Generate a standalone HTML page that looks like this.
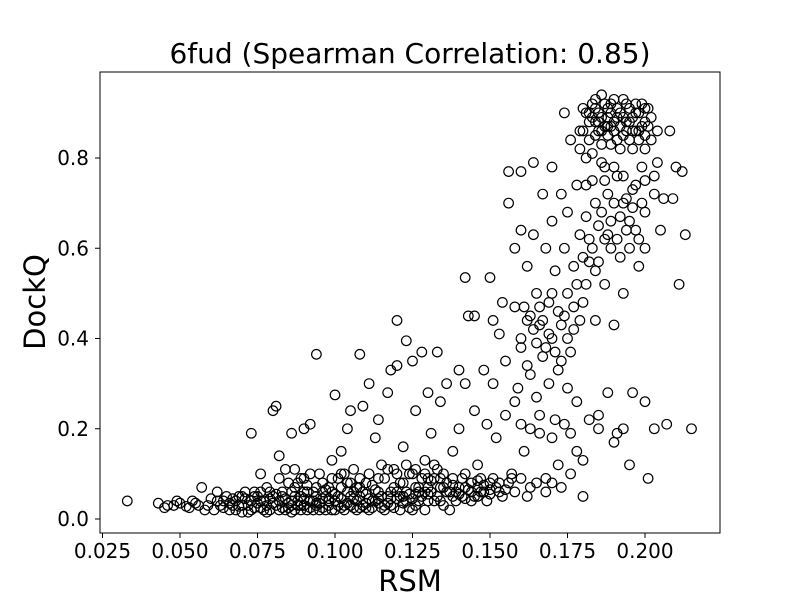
<!DOCTYPE html>
<html><head><meta charset="utf-8"><style>
html,body{margin:0;padding:0;background:#fff;}
svg{display:block;font-family:"DejaVu Sans","Liberation Sans",sans-serif;}
</style></head><body>
<svg id="chart" width="800" height="600" xmlns="http://www.w3.org/2000/svg">
<rect width="800" height="600" fill="#fff"/>
<text x="410" y="63" font-size="28" text-anchor="middle">6fud (Spearman Correlation: 0.85)</text>
<g id="points"></g>
<rect x="100" y="72" width="620" height="461" fill="none" stroke="#000" stroke-width="1"/>
<g id="xticks"></g>
<g id="yticks"></g>
<text x="410" y="591" font-size="29" text-anchor="middle">RSM</text>
<text x="45" y="302" font-size="29" text-anchor="middle" transform="rotate(-90 45 302)">DockQ</text>
</svg>
<script>
const xTickValues=[0.025,0.050,0.075,0.100,0.125,0.150,0.175,0.200];
const xTickLabels=["0.025","0.050","0.075","0.100","0.125","0.150","0.175","0.200"];
const yTickValues=[0.0,0.2,0.4,0.6,0.8];
const yTickLabels=["0.0","0.2","0.4","0.6","0.8"];
const lowBand=[[0.033,0.04],[0.043,0.035],[0.045,0.025],[0.048,0.03],[0.05,0.035],[0.052,0.028],[0.054,0.04],[0.056,0.03],[0.057,0.07],[0.058,0.02],[0.06,0.045],[0.062,0.06],[0.063,0.03],[0.065,0.05],[0.066,0.02],[0.068,0.04],[0.07,0.03],[0.071,0.06],[0.072,0.015],[0.074,0.05],[0.075,0.035],[0.077,0.02],[0.078,0.07],[0.079,0.045],[0.081,0.03],[0.083,0.06],[0.084,0.02],[0.085,0.08],[0.086,0.04],[0.088,0.03],[0.089,0.05],[0.09,0.09],[0.091,0.02],[0.093,0.06],[0.094,0.035],[0.095,0.1],[0.096,0.045],[0.097,0.02],[0.098,0.07],[0.1,0.04],[0.101,0.09],[0.103,0.03],[0.104,0.06],[0.106,0.11],[0.107,0.02],[0.108,0.05],[0.11,0.08],[0.112,0.04],[0.115,0.12],[0.116,0.03],[0.119,0.07],[0.121,0.05],[0.124,0.1],[0.125,0.02],[0.127,0.06],[0.13,0.04],[0.132,0.09],[0.135,0.07],[0.137,0.02],[0.139,0.06],[0.141,0.09],[0.144,0.04],[0.147,0.06],[0.15,0.08],[0.153,0.06],
[0.061,0.02],[0.064,0.04],[0.067,0.03],[0.069,0.05],[0.07,0.015],[0.073,0.04],[0.074,0.025],[0.076,0.06],[0.078,0.03],[0.079,0.02],[0.08,0.05],[0.082,0.04],[0.083,0.025],[0.085,0.035],[0.086,0.06],[0.087,0.02],[0.088,0.08],[0.089,0.03],[0.09,0.045],[0.091,0.06],[0.092,0.025],[0.093,0.04],[0.094,0.07],[0.095,0.02],[0.096,0.08],[0.097,0.05],[0.098,0.03],[0.099,0.06],[0.1,0.02],[0.101,0.05],[0.102,0.07],[0.103,0.1],[0.104,0.035],[0.105,0.05],[0.106,0.025],[0.107,0.07],[0.108,0.09],[0.109,0.03],[0.11,0.055],[0.111,0.02],[0.112,0.075],[0.113,0.04],[0.114,0.06],[0.115,0.025],[0.116,0.09],[0.117,0.05],[0.118,0.03],[0.119,0.11],[0.12,0.06],[0.121,0.02],[0.122,0.08],[0.123,0.04],[0.124,0.055],[0.125,0.1],[0.126,0.03],[0.127,0.07],[0.128,0.05],[0.129,0.02],[0.13,0.09],[0.131,0.06],[0.132,0.04],[0.133,0.11],[0.134,0.07],[0.135,0.03],[0.136,0.08],[0.137,0.06],[0.138,0.09],[0.139,0.04],[0.14,0.07],[0.141,0.05],[0.142,0.1],[0.143,0.065],[0.144,0.08],[0.145,0.05],[0.146,0.07],[0.147,0.09],[0.148,0.06],[0.149,0.04],[0.15,0.065],[0.152,0.07],[0.154,0.05],[0.156,0.08],[0.158,0.06],[0.16,0.09],[0.162,0.05],[0.165,0.08],[0.168,0.06],[0.17,0.08],[0.173,0.07],[0.176,0.1],[0.18,0.05]];
const denseBand=[[0.066,0.035],[0.068,0.02],[0.069,0.028],[0.071,0.045],[0.072,0.03],[0.073,0.02],[0.075,0.05],[0.076,0.025],[0.077,0.04],[0.078,0.015],[0.08,0.035],[0.081,0.055],[0.082,0.02],[0.084,0.045],[0.085,0.025],[0.086,0.015],[0.087,0.05],[0.088,0.04],[0.089,0.02],[0.09,0.03],[0.091,0.075],[0.092,0.04],[0.093,0.02],[0.094,0.05],[0.095,0.035],[0.096,0.025],[0.097,0.065],[0.098,0.045],[0.099,0.02],[0.1,0.055],[0.101,0.03],[0.102,0.045],[0.103,0.02],[0.104,0.08],[0.105,0.03],[0.106,0.045],[0.107,0.04],[0.108,0.025],[0.109,0.06],[0.11,0.035],[0.111,0.045],[0.112,0.025],[0.113,0.065],[0.114,0.035],[0.115,0.05],[0.116,0.02],[0.117,0.035],[0.118,0.06],[0.119,0.025],[0.12,0.045],[0.121,0.08],[0.122,0.035],[0.123,0.06],[0.124,0.025],[0.125,0.045],[0.126,0.07],[0.127,0.04],[0.128,0.09],[0.129,0.06],[0.13,0.07],[0.131,0.085],[0.133,0.05],[0.134,0.09],[0.136,0.06],[0.138,0.075],[0.14,0.055],[0.142,0.07],[0.144,0.06],[0.146,0.085],[0.148,0.075],[0.15,0.055],[0.151,0.09],[0.153,0.08],[0.155,0.065],[0.157,0.09],[0.082,0.09],[0.084,0.11],[0.087,0.07],[0.089,0.09],[0.092,0.1],[0.096,0.06],[0.099,0.09],[0.102,0.1],[0.105,0.08],[0.108,0.07],[0.111,0.1],[0.114,0.09],[0.117,0.11],[0.12,0.1],[0.123,0.12],[0.126,0.11],[0.129,0.1],[0.132,0.12],[0.135,0.1],[0.074,0.06],[0.076,0.04],[0.079,0.06],[0.083,0.05],[0.086,0.03],[0.09,0.06],[0.094,0.03],[0.098,0.04],[0.102,0.025],[0.106,0.06],[0.11,0.025],[0.114,0.045],[0.118,0.045],[0.122,0.05],[0.126,0.055],[0.13,0.055],[0.134,0.04],[0.138,0.05],[0.142,0.045],[0.146,0.05],[0.059,0.03],[0.062,0.04],[0.064,0.025],[0.067,0.045],[0.07,0.05],[0.055,0.035],[0.053,0.025],[0.049,0.04],[0.046,0.03]];
const midBand=[[0.073,0.19],[0.076,0.1],[0.08,0.24],[0.081,0.25],[0.082,0.14],[0.086,0.19],[0.087,0.11],[0.09,0.2],[0.092,0.21],[0.094,0.365],[0.099,0.13],[0.1,0.275],[0.102,0.15],[0.104,0.2],[0.105,0.24],[0.108,0.365],[0.109,0.25],[0.111,0.3],[0.113,0.18],[0.114,0.22],[0.117,0.28],[0.118,0.33],[0.12,0.44],[0.12,0.34],[0.122,0.16],[0.123,0.395],[0.125,0.35],[0.126,0.24],[0.128,0.37],[0.129,0.13],[0.13,0.28],[0.131,0.19],[0.133,0.37],[0.134,0.26],[0.136,0.3],[0.138,0.15],[0.14,0.33],[0.14,0.2],[0.142,0.535],[0.142,0.3],[0.143,0.45],[0.145,0.45],[0.145,0.24],[0.146,0.12],[0.148,0.33],[0.149,0.21],[0.15,0.535],[0.151,0.44],[0.151,0.3],[0.152,0.18],[0.153,0.41],[0.154,0.48],[0.155,0.35],[0.155,0.23],[0.156,0.77],[0.156,0.7],[0.157,0.1],[0.158,0.6],[0.158,0.47],[0.159,0.29],[0.16,0.77],[0.16,0.64],[0.16,0.38],[0.161,0.15],[0.162,0.56],[0.162,0.44],[0.163,0.32],[0.163,0.07],[0.164,0.79],[0.164,0.63],[0.165,0.5],[0.165,0.27],[0.166,0.43],[0.166,0.19],[0.167,0.72],[0.167,0.36],[0.168,0.6],[0.168,0.09],[0.169,0.48],[0.169,0.3],[0.17,0.78],[0.17,0.66],[0.17,0.4],[0.171,0.55],[0.171,0.22],[0.172,0.46],[0.172,0.12],[0.173,0.72],[0.173,0.35],[0.174,0.6],[0.175,0.68],[0.175,0.5],[0.175,0.29],[0.176,0.19],[0.177,0.56],[0.177,0.42],[0.178,0.74],[0.178,0.26],[0.179,0.63],[0.18,0.48],[0.18,0.13],[0.181,0.67],[0.182,0.57],[0.182,0.22],[0.183,0.75],[0.184,0.44],[0.185,0.65],[0.185,0.2],[0.187,0.52],[0.188,0.72],[0.188,0.28],[0.189,0.6],[0.19,0.43],[0.191,0.76],[0.191,0.19],[0.192,0.67],[0.193,0.5],[0.194,0.71],[0.195,0.6],[0.195,0.12],[0.196,0.28],[0.197,0.74],[0.198,0.56],[0.2,0.68],[0.2,0.26],[0.201,0.09],[0.203,0.72],[0.203,0.2],[0.205,0.64],[0.206,0.71],[0.207,0.21],[0.209,0.71],[0.211,0.52],[0.213,0.63],[0.215,0.2],
[0.16,0.4],[0.162,0.34],[0.164,0.42],[0.166,0.47],[0.168,0.38],[0.17,0.5],[0.172,0.33],[0.174,0.45],[0.176,0.37],[0.178,0.52],[0.18,0.58],[0.182,0.62],[0.184,0.55],[0.186,0.68],[0.188,0.63],[0.19,0.7],[0.192,0.58],[0.194,0.64],[0.196,0.69],[0.198,0.62],[0.2,0.6],[0.158,0.26],[0.16,0.21],[0.163,0.2],[0.166,0.23],[0.17,0.18],[0.174,0.21],[0.178,0.15],[0.185,0.23],[0.19,0.17],[0.193,0.2],
[0.161,0.47],[0.163,0.45],[0.165,0.39],[0.167,0.44],[0.169,0.41],[0.171,0.37],[0.173,0.43],[0.175,0.4],[0.177,0.47],[0.179,0.44],[0.181,0.52],[0.183,0.6],[0.185,0.57],[0.187,0.62],[0.189,0.66],[0.191,0.62],[0.193,0.7],[0.195,0.66],[0.197,0.64],[0.199,0.7],[0.181,0.74],[0.184,0.7],[0.187,0.75],[0.19,0.78],[0.193,0.76],[0.196,0.73],[0.2,0.75],[0.203,0.76]];
const topCluster=[[0.174,0.9],[0.176,0.84],[0.179,0.86],[0.18,0.91],[0.181,0.8],[0.182,0.88],[0.183,0.92],[0.184,0.85],[0.185,0.9],[0.186,0.94],[0.186,0.79],[0.187,0.87],[0.188,0.91],[0.189,0.83],[0.19,0.93],[0.19,0.88],[0.192,0.9],[0.193,0.85],[0.194,0.92],[0.195,0.88],[0.196,0.82],[0.197,0.9],[0.198,0.86],[0.199,0.92],[0.199,0.78],[0.2,0.88],[0.201,0.91],[0.202,0.84],[0.204,0.79],[0.208,0.86],[0.21,0.78],[0.212,0.77],
[0.18,0.86],[0.181,0.9],[0.182,0.84],[0.183,0.89],[0.184,0.91],[0.185,0.86],[0.186,0.89],[0.187,0.92],[0.188,0.85],[0.189,0.9],[0.19,0.86],[0.191,0.91],[0.192,0.87],[0.193,0.89],[0.194,0.86],[0.195,0.91],[0.196,0.89],[0.197,0.86],[0.198,0.9],[0.199,0.87],[0.2,0.91],[0.201,0.87],[0.184,0.88],[0.186,0.83],[0.189,0.87],[0.192,0.82],[0.195,0.84],[0.188,0.89],[0.183,0.81],[0.187,0.78],
[0.182,0.9],[0.185,0.88],[0.188,0.87],[0.191,0.89],[0.194,0.88],[0.197,0.92],[0.2,0.85],[0.202,0.89],[0.184,0.93],[0.189,0.92],[0.193,0.93],[0.198,0.84],[0.186,0.86],[0.191,0.84],[0.196,0.86],[0.2,0.82],[0.204,0.86],[0.179,0.82]];

const NS="http://www.w3.org/2000/svg";
function xScale(v){return 102.5+(v-0.025)*3100;}
function yScale(v){return 519-v*451.25;}
const pg=document.getElementById('points');
[lowBand,denseBand,midBand,topCluster].forEach(function(arr){
  arr.forEach(function(p){
    const c=document.createElementNS(NS,'circle');
    c.setAttribute('cx',xScale(p[0]));c.setAttribute('cy',yScale(p[1]));
    c.setAttribute('r',4.8);c.setAttribute('fill','none');
    c.setAttribute('stroke','#000');c.setAttribute('stroke-width','1.2');
    
    
    pg.appendChild(c);
  });
});
const xg=document.getElementById('xticks');
xTickValues.forEach(function(v,i){
  const x=xScale(v);
  const l=document.createElementNS(NS,'line');
  l.setAttribute('x1',x);l.setAttribute('x2',x);l.setAttribute('y1',533);l.setAttribute('y2',538);l.setAttribute('stroke','#000');
  
  
  xg.appendChild(l);
  const t=document.createElementNS(NS,'text');
  t.setAttribute('x',x);t.setAttribute('y',558);t.setAttribute('font-size','20');t.setAttribute('text-anchor','middle');
  t.textContent=xTickLabels[i];
  
  
  xg.appendChild(t);
});
const yg=document.getElementById('yticks');
yTickValues.forEach(function(v,i){
  const y=yScale(v);
  const l=document.createElementNS(NS,'line');
  l.setAttribute('x1',95);l.setAttribute('x2',100);l.setAttribute('y1',y);l.setAttribute('y2',y);l.setAttribute('stroke','#000');
  
  
  yg.appendChild(l);
  const t=document.createElementNS(NS,'text');
  t.setAttribute('x',89);t.setAttribute('y',y+7);t.setAttribute('font-size','20');t.setAttribute('text-anchor','end');
  t.textContent=yTickLabels[i];
  
  
  yg.appendChild(t);
});
</script>
</body></html>
